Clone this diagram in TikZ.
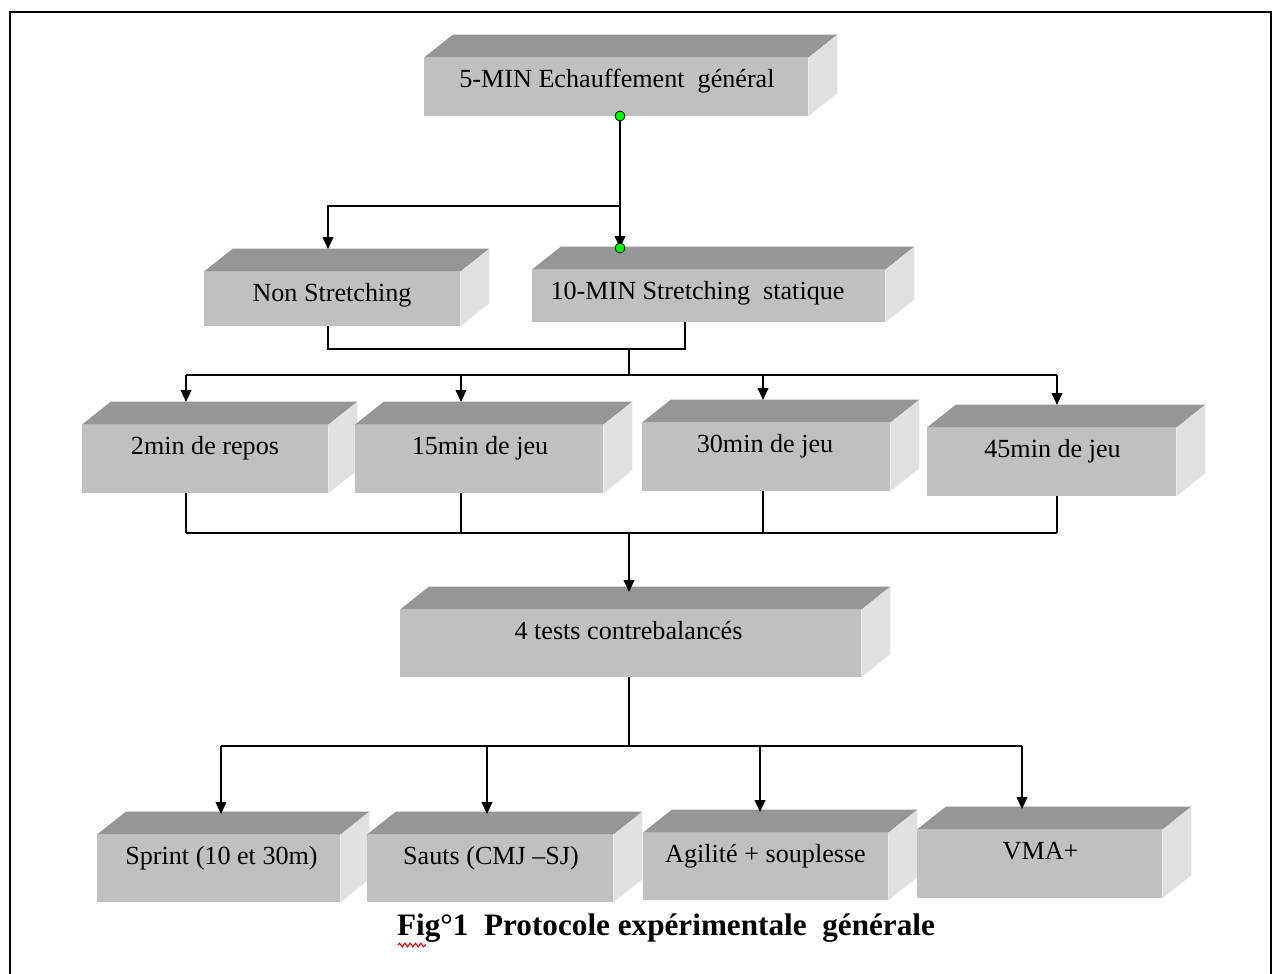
\documentclass[tikz,border=0pt]{standalone}
\usepackage{fontspec}
\setmainfont{Liberation Serif}
\usetikzlibrary{arrows.meta,fit,decorations.pathmorphing}
\definecolor{frontc}{HTML}{C0C0C0}
\definecolor{topc}{HTML}{969696}
\definecolor{sidec}{HTML}{E0E0E0}
\definecolor{dotc}{HTML}{00FF00}
\tikzset{
  face/.style={fill=frontc, inner sep=0pt, draw=none},
  lbl/.style={font=\fontsize{19.6}{22}\selectfont, anchor=base, inner sep=0pt},
  conn/.style={line width=1.4pt, draw=black},
  arr/.style={conn, -{Triangle[width=8pt,length=9pt]}},
  gdot/.style={circle, fill=dotc, draw=black, line width=0.6pt, minimum size=7.5pt, inner sep=0pt},
}
% #1 name, #2 x1, #3 y1, #4 x2, #5 y2 (front face), #6 text, #7 text x offset
\newcommand\cuboid[7]{%
  \node[face, fit={(#2,#3)(#4,#5)}] (#1) {};
  \fill[topc] (#1.north west) -- ++(29,-23) -- ([shift={(29,-23)}]#1.north east) -- (#1.north east) -- cycle;
  \fill[sidec] (#1.north east) -- ++(29,-23) -- ([shift={(29,-23)}]#1.south east) -- (#1.south east) -- cycle;
  \node[lbl] (#1-t) at ([shift={(#7,30)}]#1.north) {#6};
}
\begin{document}
\begin{tikzpicture}[x=0.75pt,y=-0.75pt]
\useasboundingbox (0,0) rectangle (1278,974);
\clip (0,0) rectangle (1278,974);
\fill[white] (0,0) rectangle (1278,974);
\draw[line width=1.8pt] (10,12) rectangle (1271,1000);

% boxes
\cuboid{top}{424}{58}{808}{116}{5-MIN Echauffement\ \ général}{1}
\cuboid{non}{204}{272}{460}{326}{Non Stretching}{0}
\cuboid{str}{532}{270}{885}{322}{10-MIN Stretching\ \ statique}{-11}
\cuboid{ra}{82}{425}{328}{493}{2min de repos}{0}
\cuboid{rb}{355}{425}{603}{493}{15min de jeu}{1}
\cuboid{rc}{642}{423}{890}{491}{30min de jeu}{-1}
\cuboid{rd}{927}{428}{1176}{496}{45min de jeu}{1}
\cuboid{tests}{400}{610}{861}{677}{4 tests contrebalancés}{-2}
\cuboid{sa}{97}{835}{340}{902}{Sprint (10 et 30m)}{3}
\cuboid{sb}{367}{835}{613}{902}{Sauts (CMJ –SJ)}{1}
\cuboid{sc}{643}{833}{888}{900}{Agilité + souplesse}{0}
\cuboid{sd}{917}{830}{1162}{898}{VMA+}{1}

% junction coordinates
\coordinate (dA) at (620,116);
\coordinate (dB) at (620,248);
\coordinate (jA) at (620,206);
\coordinate (jB) at (328,206);
\coordinate (nonIn) at (328,249);
\coordinate (nonOut) at (328,326);
\coordinate (strOut) at (685,322);
\coordinate (m1) at (328,349);
\coordinate (m2) at (685,349);
\coordinate (m3) at (629,349);
\coordinate (m4) at (629,375);
\coordinate (h1) at (186,375);
\coordinate (h2) at (461,375);
\coordinate (h3) at (763,375);
\coordinate (h4) at (1057,375);
\coordinate (raIn) at (186,402);
\coordinate (rbIn) at (461,402);
\coordinate (rcIn) at (763,400);
\coordinate (rdIn) at (1057,405);
\coordinate (raOut) at (186,493);
\coordinate (rbOut) at (461,493);
\coordinate (rcOut) at (763,491);
\coordinate (rdOut) at (1057,496);
\coordinate (b1) at (186,533);
\coordinate (b2) at (461,533);
\coordinate (b3) at (763,533);
\coordinate (b4) at (1057,533);
\coordinate (bc) at (629,533);
\coordinate (testsIn) at (629,592);
\coordinate (testsOut) at (629,677);
\coordinate (k0) at (629,746);
\coordinate (k1) at (221,746);
\coordinate (k2) at (487,746);
\coordinate (k3) at (760,746);
\coordinate (k4) at (1022,746);
\coordinate (saIn) at (221,814);
\coordinate (sbIn) at (487,814);
\coordinate (scIn) at (760,812);
\coordinate (sdIn) at (1022,809);

% connectors
\draw[arr] (dA) -- (dB);
\draw[arr] (jA) -- (jB) -- (nonIn);
\draw[conn] (nonOut) -- (m1) -- (m2) -- (strOut);
\draw[conn] (m3) -- (m4);
\draw[conn] (h1) -- (h4);
\draw[arr] (h1) -- (raIn);
\draw[arr] (h2) -- (rbIn);
\draw[arr] (h3) -- (rcIn);
\draw[arr] (h4) -- (rdIn);
\draw[conn] (raOut) -- (b1);
\draw[conn] (rbOut) -- (b2);
\draw[conn] (rcOut) -- (b3);
\draw[conn] (rdOut) -- (b4);
\draw[conn] (b1) -- (b4);
\draw[arr] (bc) -- (testsIn);
\draw[conn] (testsOut) -- (k0);
\draw[conn] (k1) -- (k4);
\draw[arr] (k1) -- (saIn);
\draw[arr] (k2) -- (sbIn);
\draw[arr] (k3) -- (scIn);
\draw[arr] (k4) -- (sdIn);

% green dots
\node[gdot] (dotA) at (dA) {};
\node[gdot] (dotB) at (dB) {};

% caption
\node[font=\bfseries\fontsize{23.4}{26}\selectfont, anchor=base, inner sep=0pt] (cap) at (666,935) {Fig°1\ \ Protocole expérimentale\ \ générale};
\draw[red, line width=0.8pt, decorate, decoration={snake, amplitude=1.4pt, segment length=4pt}] ([shift={(1,10)}]cap.base west) -- ++(28,0);
\end{tikzpicture}
\end{document}
